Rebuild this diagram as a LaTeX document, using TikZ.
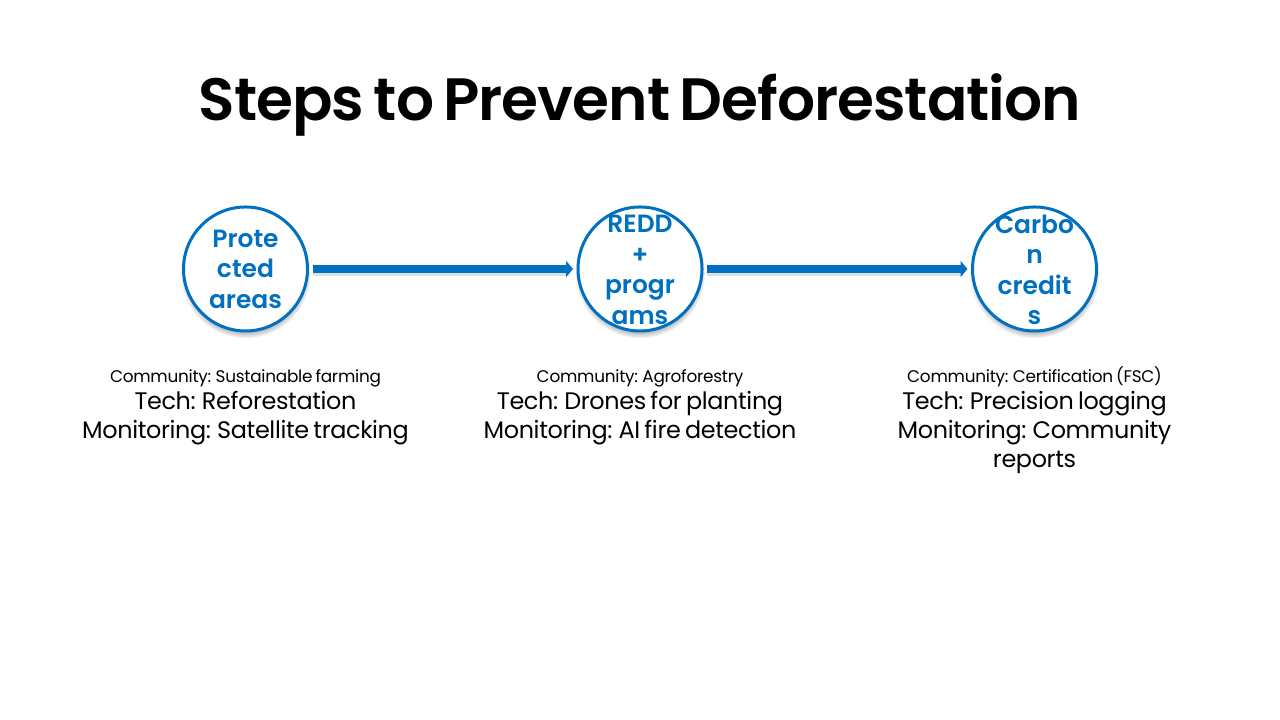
\documentclass[tikz,border=0pt]{standalone}
\usepackage{fontspec}
\setmainfont{Poppins}[BoldFont={Poppins SemiBold}, WordSpace=0.8]
\newfontfamily\titlefont{Poppins SemiBold}[LetterSpace=-1.6, WordSpace=0.7]
\newfontfamily\infofont{Poppins}[LetterSpace=-1.5, WordSpace=0.7]
\usetikzlibrary{arrows.meta,shadows}
\definecolor{stepblue}{RGB}{0,112,192}
\tikzset{
	stepcircle/.style={circle, draw=stepblue, line width=0.03cm, fill=white, minimum size=1.24cm, inner sep=0pt,
		circular drop shadow={shadow xshift=0cm, shadow yshift=-0.04cm, shadow scale=1.05, opacity=0.4, fill=black}},
	steplabel/.style={text=stepblue, align=center, font=\fontsize{7.1}{8.7}\selectfont\bfseries},
	flow/.style={draw=stepblue, line width=0.08cm, -{Triangle[length=0.07cm, width=0.16cm]}, shorten <=0.035cm, shorten >=0.035cm},
	flowshadow/.style={draw=black, opacity=0.12, line width=0.08cm, shorten <=0.035cm, shorten >=0.08cm, transform canvas={yshift=-0.03cm}},
	info/.style={align=center, anchor=north, text=black, font=\infofont\fontsize{6.8}{8.25}\selectfont},
}
\newcommand{\smallline}[1]{{\fontsize{4.8}{7}\selectfont\strut #1}}
\begin{document}
\begin{tikzpicture}
	\useasboundingbox (0, 0) rectangle (12.8, 7.2);
	% Titel
	\node (title) at (6.4, 6.15) {\titlefont\fontsize{17}{21}\selectfont Steps to Prevent Deforestation};
	% Kreise
	\node[stepcircle] (protected) at (2.455, 4.51) {};
	\node[steplabel] (protectedtext) at (protected.center) {Prote\\cted\\areas};
	\node[stepcircle] (redd) at (6.4, 4.51) {};
	\node[steplabel] (reddtext) at ([yshift=-0.01cm]redd.center) {REDD\\+\\progr\\ams};
	\node[stepcircle] (carbon) at (10.345, 4.51) {};
	\node[steplabel] (carbontext) at ([yshift=-0.01cm]carbon.center) {Carbo\\n\\credit\\s};
	% Pfeile
	\draw[flowshadow] (protected) -- (redd);
	\draw[flowshadow] (redd) -- (carbon);
	\draw[flow] (protected) -- (redd);
	\draw[flow] (redd) -- (carbon);
	% Beschreibungen
	\node[info] (protectedinfo) at (2.455, 3.67) {\smallline{Community: Sustainable farming}\\[-0.02cm]Tech: Reforestation\\Monitoring: Satellite tracking};
	\node[info] (reddinfo) at (6.4, 3.67) {\smallline{Community: Agroforestry}\\[-0.02cm]Tech: Drones for planting\\Monitoring: AI fire detection};
	\node[info] (carboninfo) at (10.345, 3.67) {\smallline{Community: Certification (FSC)}\\[-0.02cm]Tech: Precision logging\\Monitoring: Community\\reports};
\end{tikzpicture}
\end{document}
